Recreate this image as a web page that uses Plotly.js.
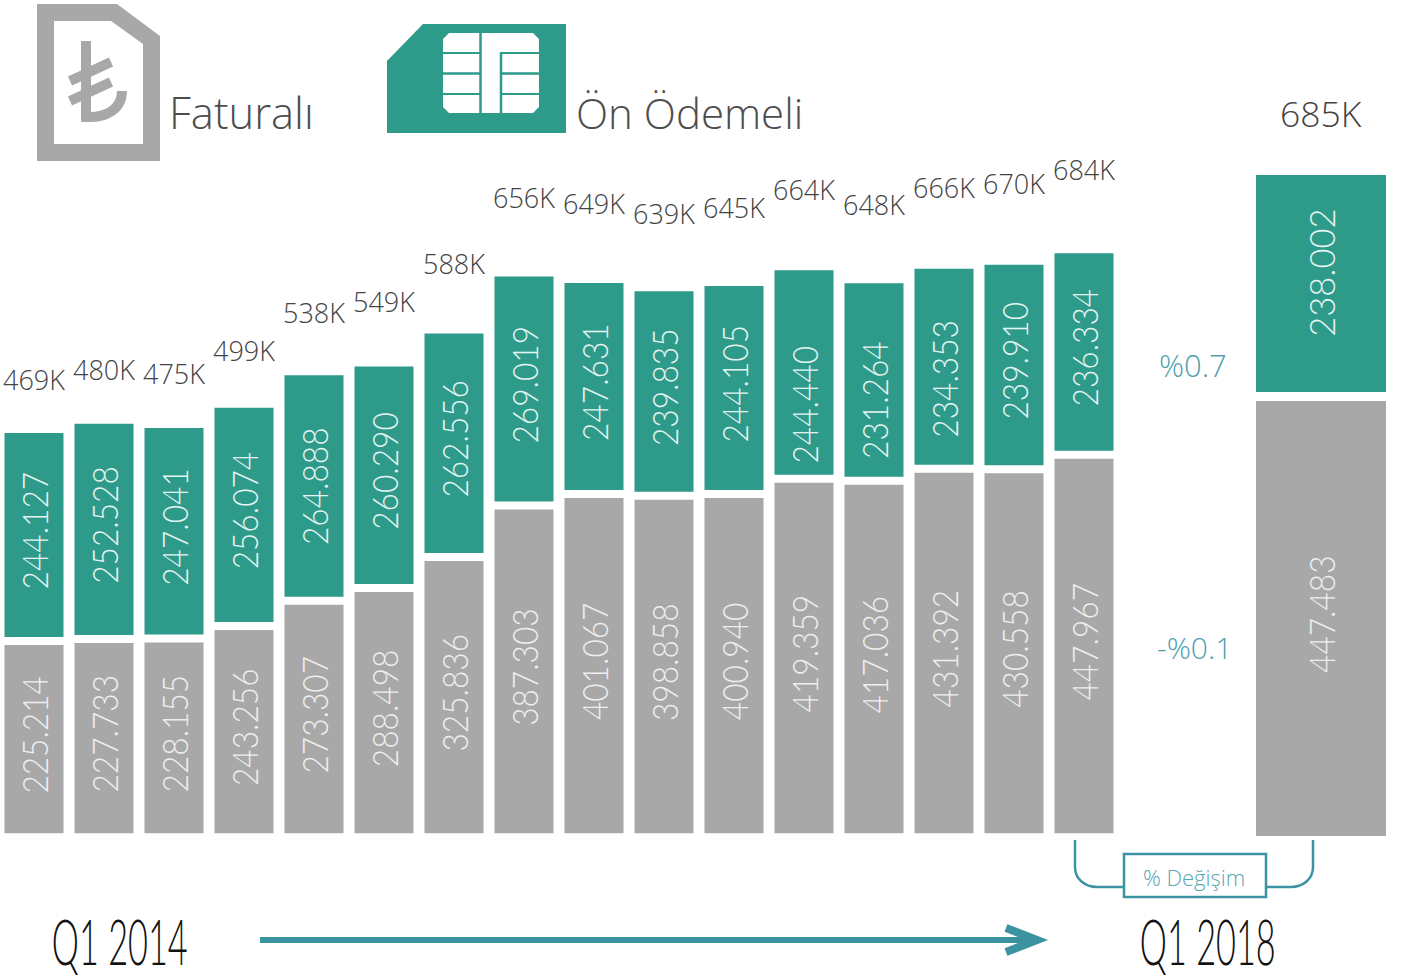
<!DOCTYPE html>
<html><head><meta charset="utf-8">
<script src="https://cdn.plot.ly/plotly-3.0.1.min.js"></script>
<style>html,body{margin:0;padding:0;background:#fff;overflow:hidden}#c{width:1411px;height:978px}</style>
</head><body><div id="c"></div>
<script>
const quarters = ["Q1 2014","Q2 2014","Q3 2014","Q4 2014","Q1 2015","Q2 2015","Q3 2015","Q4 2015","Q1 2016","Q2 2016","Q3 2016","Q4 2016","Q1 2017","Q2 2017","Q3 2017","Q4 2017"];
const faturali = [225214,227733,228155,243256,273307,288498,325836,387303,401067,398858,400940,419359,417036,431392,430558,447967];
const onOdemeli = [244127,252528,247041,256074,264888,260290,262556,269019,247631,239835,244105,244440,231264,234353,239910,236334];
const totalsK = [469,480,475,499,538,549,588,656,649,639,645,664,648,666,670,684];
const lastQuarter = ["Q1 2018"];
const lastFaturali = [447483];
const lastOnOdemeli = [238002];
const lastTotal = "685K";
const changeFaturali = "-%0.1";
const changeOnOdemeli = "%0.7";

const W=1411,H=978,GREEN="#2e9a8a",GRAY="#a8a8a8",TEAL="#3b93a2";
const THIN="Lato, sans-serif", LIGHT="'Open Sans', sans-serif";
const fmt=v=>{const s=String(v);return s.slice(0,-3)+"."+s.slice(-3)};
const sA=0.000836, bA=833.3, gapA=8/sA;
const sB=0.000972, bB=836;
const sC=0.000912, bC=392;
const X=x=>(x/W).toFixed(5), Y=y=>(1-y/H).toFixed(5);
function pathConv(s){
  return s.replace(/(-?[\d.]+),(-?[\d.]+)/g,(m,a,b)=>X(+a)+","+Y(+b));
}
function sh(path,fill,lineColor,lw){
  return {type:"path",xref:"paper",yref:"paper",layer:"above",path:pathConv(path),fillcolor:fill||"rgba(0,0,0,0)",line:{color:lineColor||"rgba(0,0,0,0)",width:lw||0}};
}
const shapes=[
 sh("M37,4 L117,4 L160,36 L160,161 L37,161 Z M54,21 L54,144 L143,144 L143,44 L111,21 Z",GRAY),
 sh("M86,41 L86,117 C105,118 122,110 122,91",null,GRAY,10),
 sh("M70,81 L111,62",null,GRAY,10),
 sh("M70,101 L111,82",null,GRAY,10),
 sh("M387,61 L423,24 L566,24 L566,133 L387,133 Z",GREEN),
 sh("M449,33 L533,33 L539,39 L539,107 L533,113 L449,113 L443,107 L443,39 Z","#ffffff"),
 sh("M480.5,33 L480.5,113",null,GREEN,2.5),
 sh("M501,53 L501,113",null,GREEN,2.5),
 sh("M443,53 L480,53",null,GREEN,2),
 sh("M443,73.5 L480,73.5",null,GREEN,2.5),
 sh("M443,94 L480,94",null,GREEN,2),
 sh("M500,53 L539,53",null,GREEN,2),
 sh("M500,73.5 L539,73.5",null,GREEN,2.5),
 sh("M500,94 L539,94",null,GREEN,2),
 sh("M260,940 L1030,940",null,TEAL,6),
 sh("M1006,928 L1037,940 L1006,952",null,TEAL,8),
 sh("M1075,840 L1075,867 C1075,879 1085,887 1097,887 L1124,887",null,TEAL,2.5),
 sh("M1266,887 L1291,887 C1303,887 1313,879 1313,867 L1313,840",null,TEAL,2.5),
 sh("M1124,854 L1266,854 L1266,897 L1124,897 Z",null,TEAL,2.5)
];
const greenLabelLift={4:0,11:-32,12:-20,13:-12};
const annotations=[];
function add(o){annotations.push(Object.assign({showarrow:false,xanchor:"center",yanchor:"middle"},o));}
const barFont=c=>({family:THIN,size:36,color:c,weight:300});
quarters.forEach((q,i)=>{
  add({xref:"x",yref:"y",x:q,y:faturali[i]/2,yshift:4.5,text:fmt(faturali[i]),textangle:-90,font:barFont("#eeeeee")});
  const lift=(i in greenLabelLift)?greenLabelLift[i]:4.5;
  add({xref:"x",yref:"y",x:q,y:faturali[i]+gapA+onOdemeli[i]/2,yshift:lift,text:fmt(onOdemeli[i]),textangle:-90,font:barFont("#e4f4f0")});
});
add({xref:"x2",yref:"y2",x:lastQuarter[0],y:lastFaturali[0]/2,yshift:4.5,text:fmt(lastFaturali[0]),textangle:-90,font:barFont("#eeeeee")});
add({xref:"x2",yref:"y4",x:lastQuarter[0],y:lastOnOdemeli[0]/2,yshift:11,text:fmt(lastOnOdemeli[0]),textangle:-90,font:barFont("#e4f4f0")});
const pap=(x,y,text,font)=>add({xref:"paper",yref:"paper",x:x/W,y:1-y/H,text,font});
pap(1321,112.5,lastTotal,{family:LIGHT,size:35.5,color:"#444",weight:300});
pap(242,113,"Faturalı",{family:LIGHT,size:43.5,color:"#4d4d4d",weight:300});
pap(689,113,"Ön Ödemeli",{family:LIGHT,size:42,color:"#4d4d4d",weight:300});
pap(1193,365,changeOnOdemeli,{family:LIGHT,size:31,color:"#4f9fae",weight:300});
pap(1194,647.5,changeFaturali,{family:LIGHT,size:30,color:"#4f9fae",weight:300});
pap(1194,877,"% Değişim",{family:LIGHT,size:22,color:"#5aa6b3",weight:300});
pap(120,940.5,"Q1 2014",{family:THIN,size:64,color:"#111",weight:300});
pap(1208,940.5,"Q1 2018",{family:THIN,size:64,color:"#111",weight:300});

const traces=[
 {type:"bar",x:quarters,y:faturali,xaxis:"x",yaxis:"y",width:59/70,marker:{color:GRAY},hoverinfo:"skip"},
 {type:"bar",x:quarters,y:onOdemeli,base:faturali.map(v=>v+gapA),xaxis:"x",yaxis:"y",width:59/70,marker:{color:GREEN},hoverinfo:"skip"},
 {type:"bar",x:lastQuarter,y:lastFaturali,xaxis:"x2",yaxis:"y2",width:1,marker:{color:GRAY},hoverinfo:"skip"},
 {type:"bar",x:lastQuarter,y:lastOnOdemeli,xaxis:"x2",yaxis:"y4",width:1,marker:{color:GREEN},hoverinfo:"skip"},
 {type:"scatter",mode:"text",x:quarters,y:totalsK,text:totalsK.map(v=>v+"K"),xaxis:"x",yaxis:"y3",textposition:"middle center",textfont:{family:LIGHT,size:27,color:"#444",weight:300},hoverinfo:"skip",cliponaxis:false}
];
const layout={
 width:W,height:H,margin:{l:0,r:0,t:0,b:0},paper_bgcolor:"#fff",plot_bgcolor:"rgba(0,0,0,0)",showlegend:false,barmode:"overlay",
 xaxis:{type:"category",domain:[0,1119/W],range:[-34/70,15.5],visible:false,categoryorder:"array",categoryarray:quarters},
 yaxis:{domain:[0,1],range:[-(H-bA)/sA,bA/sA],visible:false},
 xaxis2:{type:"category",domain:[1256/W,1386/W],range:[-0.5,0.5],visible:false,anchor:"y2"},
 yaxis2:{domain:[0,1],range:[-(H-bB)/sB,bB/sB],visible:false,anchor:"x2"},
 yaxis3:{domain:[0,1],overlaying:"y",range:[469-594.5/0.977,469+383.5/0.977],visible:false,anchor:"x"},
 yaxis4:{domain:[0,1],overlaying:"y2",range:[-(H-bC)/sC,bC/sC],visible:false,anchor:"x2"},
 shapes,annotations
};
function squeeze(t,sx){
  const b=t.getBBox(),cx=b.x+b.width/2,cy=b.y+b.height/2;
  const prev=t.getAttribute("transform")||"";
  t.setAttribute("transform",prev+` translate(${cx},${cy}) scale(${sx},1) translate(${-cx},${-cy})`);
}
Plotly.newPlot("c",traces,layout,{displayModeBar:false,staticPlot:true}).then(gd=>{
  gd.querySelectorAll(".annotation-text").forEach(t=>{
    const s=t.textContent;
    if(/^Q1 20/.test(s)) squeeze(t,0.536);
    else if(/^\d+\.\d+$/.test(s)) squeeze(t,s==="238.002"?0.96:0.88);
  });
});
</script></body></html>
